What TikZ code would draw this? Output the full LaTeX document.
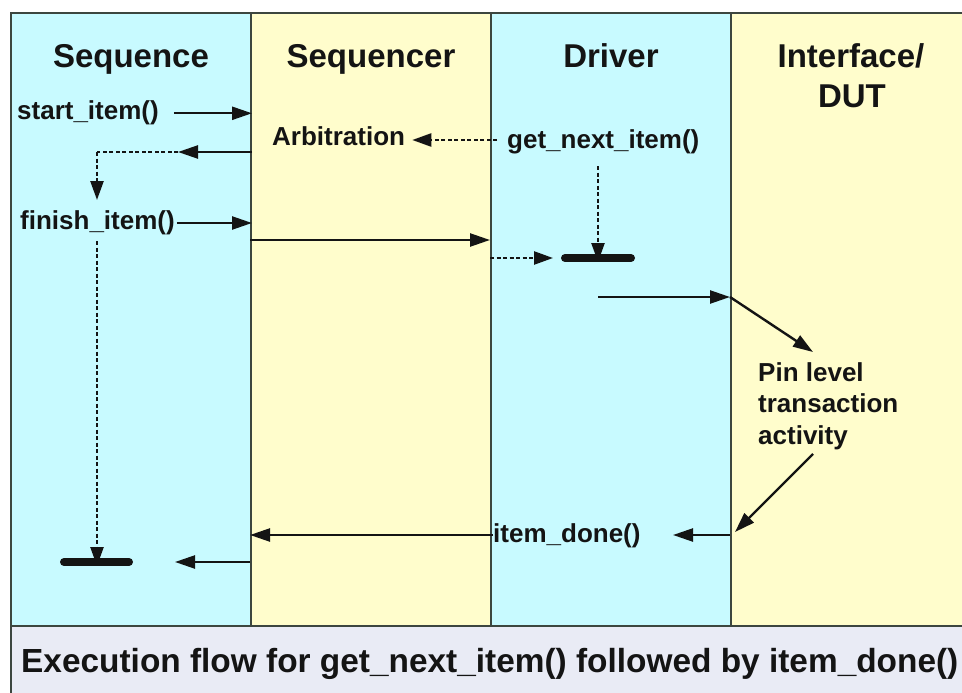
\documentclass[tikz,border=0pt]{standalone}
\usepackage{fontspec}
\setmainfont{Liberation Sans}
\usetikzlibrary{arrows.meta}

\definecolor{laneCyan}{HTML}{C8FAFF}
\definecolor{laneYellow}{HTML}{FFFDCC}
\definecolor{captionBg}{HTML}{E9EBF5}
\definecolor{rule}{HTML}{3C463F}
\definecolor{ink}{HTML}{141414}

\tikzset{
  lane/.style={draw=rule, line width=2pt, anchor=north west, inner sep=0pt,
               minimum width=240pt, minimum height=613pt},
  head/.style={font=\bfseries\fontsize{33}{38}\selectfont, text=ink, inner sep=0pt},
  lbl/.style={font=\bfseries\fontsize{26}{31.5}\selectfont, text=ink, inner sep=0pt},
  flow/.style={draw=ink, line width=2.4pt, -{Triangle[length=20pt,width=13pt]}},
  dflow/.style={draw=ink, line width=2.4pt, dash pattern=on 4pt off 2.5pt,
                -{Triangle[length=19pt,width=13pt]}},
  dline/.style={draw=ink, line width=2.4pt, dash pattern=on 4pt off 2.5pt},
  waitbar/.style={draw=ink, line width=8pt, line cap=round},
}

\begin{document}
\begin{tikzpicture}[x=1pt,y=-1pt]
\useasboundingbox (0,0) rectangle (962,693);
\fill[white] (0,0) rectangle (962,693);

% swim lanes
\node[lane, fill=laneCyan]   (lSeq)  at (10,12)  {};
\node[lane, fill=laneYellow] (lSqr)  at (250,12) {};
\node[lane, fill=laneCyan]   (lDrv)  at (490,12) {};
\node[lane, fill=laneYellow, minimum width=260pt] (lDut) at (730,12) {};

% caption band
\node[draw=rule, line width=2pt, fill=captionBg, anchor=north west, inner sep=0pt,
      minimum width=980pt, minimum height=90pt] (capband) at (10,625) {};
\node[lbl, font=\bfseries\fontsize{33.4}{38}\selectfont, anchor=base west] (caption) at (21,672)
  {Execution flow for get\_next\_item() followed by item\_done()};

% lane headings
\node[head, anchor=base] (hSeq) at (131,67) {Sequence};
\node[head, anchor=base] (hSqr) at (371,67) {Sequencer};
\node[head, anchor=base] (hDrv) at (611,67) {Driver};
\node[head, anchor=base] (hDut1) at (851,67) {Interface/};
\node[head, anchor=base] (hDut2) at (852,107) {DUT};

% labels
\node[lbl, anchor=base west] (start) at (17,120) {start\_item()};
\node[lbl, anchor=base west] (arb) at (272,146) {Arbitration};
\node[lbl, anchor=base west] (gni) at (507,148) {get\_next\_item()};
\node[lbl, anchor=base west] (fin) at (20,229) {finish\_item()};
\node[lbl, anchor=base west] (done) at (493,542) {item\_done()};
\node[lbl, anchor=north west, align=left] (pin) at (758,362)
  {Pin level\\transaction\\activity};

% named points along the lanes
\coordinate (retTip)  at (178,152);
\coordinate (retCor)  at (97,152);
\coordinate (retEnd)  at (97,200);
\coordinate (finDash) at (97,241);
\coordinate (bar2)    at (97,562);
\coordinate (bar1)    at (598,258);
\coordinate (sqrOut)  at (250,240);
\coordinate (drvIn)   at (490,240);
\coordinate (drvDash) at (490,258);
\coordinate (drvTip)  at (553,258);
\coordinate (drvOut)  at (598,297);
\coordinate (dutIn)   at (730,297);
\coordinate (pinIn)   at (813,352);
\coordinate (pinOut)  at (813,454);
\coordinate (dutBack) at (735,532);
\coordinate (dutRet)  at (730,535);
\coordinate (drvRet)  at (673,535);
\coordinate (sqrRet)  at (250,535);
\coordinate (sqrLow)  at (250,562);
\coordinate (seqTip)  at (175,562);

% sequence -> sequencer
\draw[flow] ([xshift=15pt]start.east) -- (start.east -| lSeq.east);
\draw[dflow] ([xshift=-10pt]gni.west |- 0,140) -- ([xshift=7pt]arb.east |- 0,140);
\draw[flow] (lSeq.east |- retTip) -- (retTip);
\draw[dline] (retTip) -- (retCor);
\draw[dflow] (retCor) -- (retEnd);
\draw[flow] ([xshift=2pt]fin.east |- 0,223) -- (lSeq.east |- 0,223);

% sequencer -> driver
\draw[flow] (sqrOut) -- (drvIn);
\draw[dflow] (drvDash) -- (drvTip);
\draw[waitbar] ([xshift=-33pt]bar1) -- ([xshift=33pt]bar1);
\draw[dflow] (bar1 |- 0,166) -- ([yshift=-4pt]bar1);

% driver <-> interface
\draw[flow] (drvOut) -- (dutIn);
\draw[flow] (dutIn) -- (pinIn);
\draw[flow] (pinOut) -- (dutBack);
\draw[flow] (dutRet) -- (drvRet);

% item_done back to the sequence
\draw[flow] (done.west |- sqrRet) -- (sqrRet);
\draw[flow] (sqrLow) -- (seqTip);
\draw[dflow] (finDash) -- ([yshift=-4pt]bar2);
\draw[waitbar] ([xshift=-33pt]bar2) -- ([xshift=32pt]bar2);
\end{tikzpicture}
\end{document}
